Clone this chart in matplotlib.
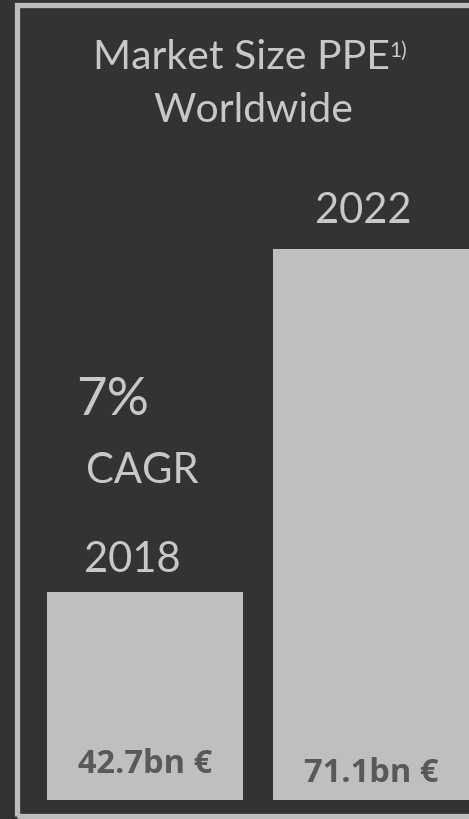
import matplotlib
matplotlib.use("Agg")
import matplotlib.pyplot as plt
from matplotlib.patches import Rectangle

# data
years = ["2018", "2022"]
market_size = [42.7, 71.1]          # bn EUR
value_labels = ["42.7bn €", "71.1bn €"]
cagr_label = "7%"

W, H = 469, 819
BG = "#333333"
BAR = "#bfbfbf"
TXT = "#c8c8c8"
LBL = "#595959"


def px(x, y):
    # pixel position (from top left) -> figure fraction
    return x / W, 1 - y / H


fig = plt.figure(figsize=(W / 100, H / 100), dpi=100, facecolor=BG)

# bars on an axes covering the whole figure, baseline value below the smaller bar
ax = fig.add_axes([0, 0, 1, 1])
ax.set_facecolor(BG)
baseline = 25.5
ax.bar([0, 1], [v - baseline for v in market_size], bottom=baseline,
       width=0.867, color=BAR, linewidth=0)
ax.set_xlim(-0.6416, 1.4336)
ax.set_ylim(23.93, 91.67)
ax.axis("off")

# frame
fig.patches.append(Rectangle(px(16.5, 815.5), (500 - 16.5) / W, (815.5 - 4.5) / H,
                             transform=fig.transFigure, fill=False,
                             edgecolor="#bdbdbd", linewidth=3.8, zorder=5))

font = "Lato"
fig.text(*px(241.5, 69), "Market Size PPE", ha="center", va="baseline",
         fontsize=29.5, color=TXT, family=font)
fig.text(*px(389, 57), "1)", ha="left", va="baseline",
         fontsize=15, color=TXT, family=font)
fig.text(*px(253, 122), "Worldwide", ha="center", va="baseline",
         fontsize=29.5, color=TXT, family=font)

fig.text(*px(363, 223), years[1], ha="center", va="baseline",
         fontsize=30, color=TXT, family=font)
fig.text(*px(132.5, 572), years[0], ha="center", va="baseline",
         fontsize=30, color=TXT, family=font)
fig.text(*px(113, 415), cagr_label, ha="center", va="baseline",
         fontsize=38, color=TXT, family=font)
fig.text(*px(142.5, 483), "CAGR", ha="center", va="baseline",
         fontsize=30, color=TXT, family=font)

for i, lab in enumerate(value_labels):
    ax.annotate(lab, (i, baseline), xytext=(0, [27, 18][i]), textcoords="offset pixels",
                ha="center", va="baseline", fontsize=23.5, fontweight="bold",
                color=LBL, family="Open Sans")

fig.savefig("out.png", dpi=100, facecolor=BG)
